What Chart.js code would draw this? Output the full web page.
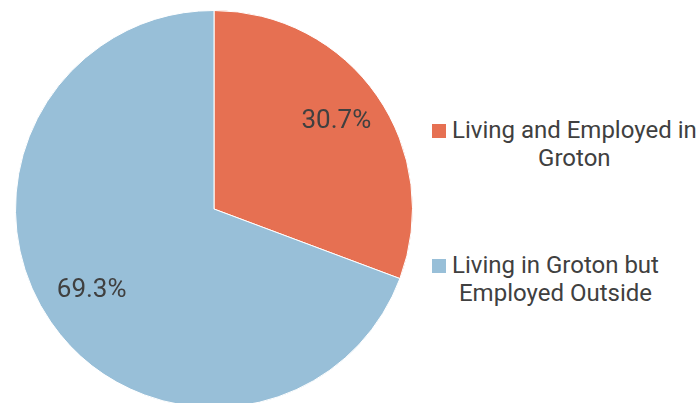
<!DOCTYPE html>
<html lang="en">
<head>
    <meta charset="UTF-8">
    <title>Groton Commuting</title>
    <script src="https://cdn.jsdelivr.net/npm/chart.js"></script>
    <style>
        html, body { margin: 0; padding: 0; background: #fff; overflow: hidden; }
        #wrap { position: relative; width: 700px; height: 403px; overflow: hidden; font-family: Roboto, sans-serif; }
        #chartBox { position: absolute; left: 0; top: 0; width: 430px; height: 418px; }
        .legend { position: absolute; left: 432px; color: #404040; font-size: 24px; line-height: 28px; }
        .legend .item { position: absolute; left: 0; white-space: nowrap; }
        .legend .box { position: absolute; left: 0; top: 8px; width: 14px; height: 14px; }
        .legend .txt { margin-left: 20px; text-align: center; display: inline-block; }
    </style>
</head>
<body>
<div id="wrap">
    <div id="chartBox"><canvas id="pie"></canvas></div>
    <div class="legend" id="legend"></div>
</div>

<script>
    // data
    const labels = ['Living and Employed in Groton', 'Living in Groton but Employed Outside'];
    const legendLines = [['Living and Employed in', 'Groton'], ['Living in Groton but', 'Employed Outside']];
    const values = [30.7, 69.3];
    const colors = ['#E67052', '#98BFD8'];

    // percent labels inside the slices
    const sliceLabels = {
        id: 'sliceLabels',
        afterDatasetsDraw(chart) {
            const ctx = chart.ctx;
            const meta = chart.getDatasetMeta(0);
            ctx.save();
            ctx.font = '26px Roboto';
            ctx.fillStyle = '#404040';
            ctx.textAlign = 'center';
            ctx.textBaseline = 'middle';
            meta.data.forEach((arc, i) => {
                const mid = (arc.startAngle + arc.endAngle) / 2;
                const r = arc.outerRadius * 0.75;
                ctx.fillText(values[i].toFixed(1) + '%', arc.x + Math.cos(mid) * r, arc.y + Math.sin(mid) * r - 3);
            });
            ctx.restore();
        }
    };

    new Chart(document.getElementById('pie').getContext('2d'), {
        type: 'pie',
        data: {
            labels: labels,
            datasets: [{
                data: values,
                backgroundColor: colors,
                borderColor: '#ffffff',
                borderWidth: 1
            }]
        },
        options: {
            responsive: true,
            maintainAspectRatio: false,
            animation: false,
            layout: { padding: { left: 15, right: 17, top: 10, bottom: 10 } },
            plugins: {
                legend: { display: false },
                tooltip: { enabled: false }
            }
        },
        plugins: [sliceLabels]
    });

    // legend on the right
    const legendEl = document.getElementById('legend');
    const tops = [116, 251];
    legendLines.forEach((lines, i) => {
        const item = document.createElement('div');
        item.className = 'item';
        item.style.top = tops[i] + 'px';
        const box = document.createElement('span');
        box.className = 'box';
        box.style.background = colors[i];
        const txt = document.createElement('span');
        txt.className = 'txt';
        txt.innerHTML = lines.join('<br>');
        item.appendChild(box);
        item.appendChild(txt);
        legendEl.appendChild(item);
    });
</script>
</body>
</html>
